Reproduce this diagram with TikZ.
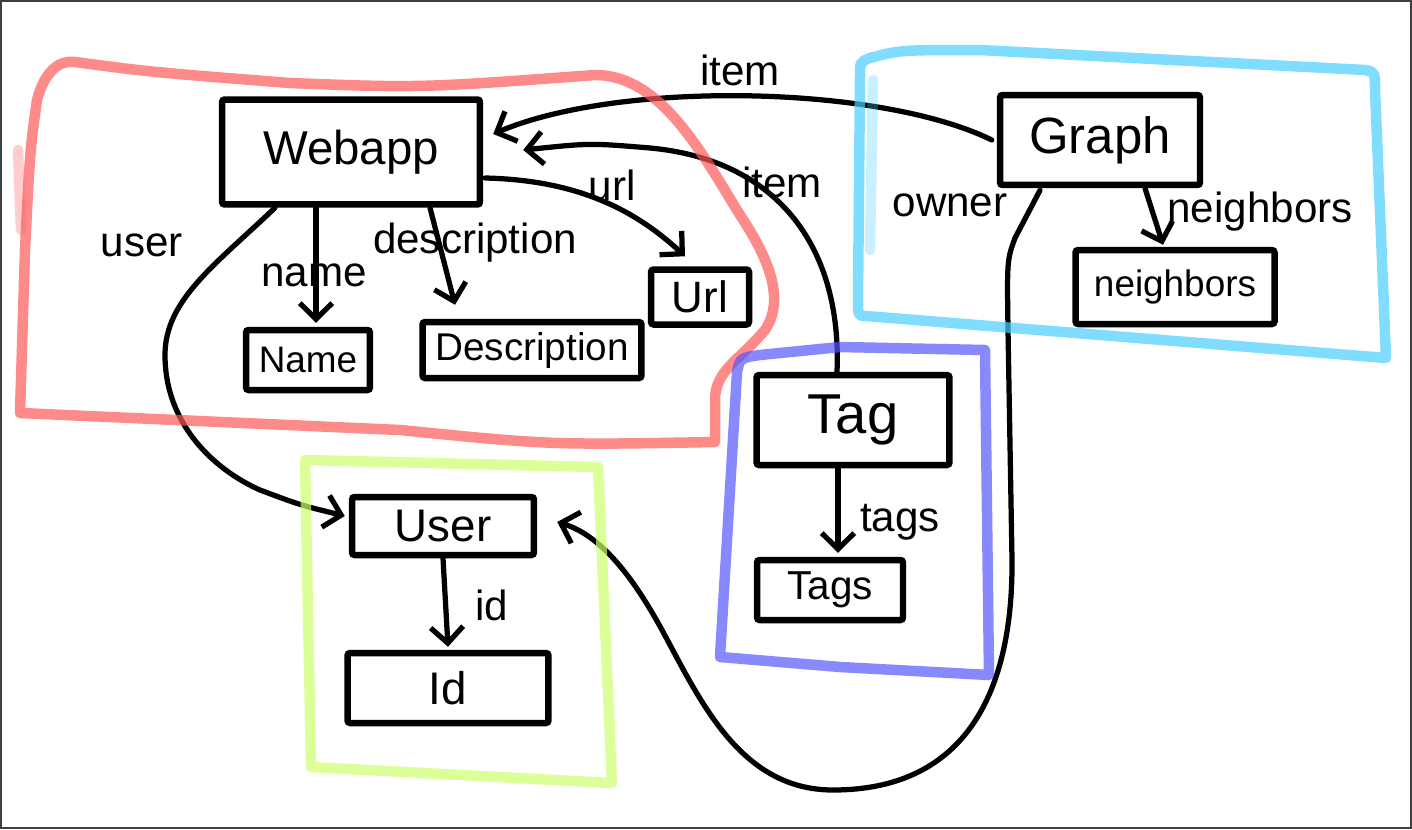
\documentclass[tikz,border=0pt]{standalone}
\usepackage{fontspec}
\setmainfont{Liberation Sans}
\usetikzlibrary{arrows.meta,calc}
\definecolor{redg}{RGB}{255,88,88}
\definecolor{cyang}{RGB}{76,206,255}
\definecolor{blueg}{RGB}{85,85,255}
\definecolor{greeng}{RGB}{206,255,109}
\begin{document}
\begin{tikzpicture}[x=0.02cm,y=-0.02cm,
  box/.style={draw, line width=0.13cm, rounded corners=1.5pt, inner sep=0pt, align=center},
  conn/.style={line width=0.105cm, -{Straight Barb[length=0.32cm,width=0.65cm]}, line cap=round, line join=round},
  lbl/.style={font=\fontsize{24}{26}\selectfont, inner sep=0pt},
  grp/.style={line width=0.21cm, opacity=0.7, line join=round, line cap=round}]
\useasboundingbox (0,0) rectangle (1412,829);
\draw[line width=0.04cm, black!75] (1,1) rectangle (1411,828);

% nodes
\node[box, minimum width=5.16cm, minimum height=2.1cm, font=\fontsize{27}{30}\selectfont] (web) at (351,152) {Webapp};
\node[box, minimum width=2.48cm, minimum height=1.2cm, font=\fontsize{21}{24}\selectfont] (name) at (308,360) {Name};
\node[box, minimum width=4.38cm, minimum height=1.12cm, font=\fontsize{22}{24}\selectfont] (desc) at (532,350) {Description};
\node[box, minimum width=1.96cm, minimum height=1.1cm, font=\fontsize{25}{27}\selectfont] (url) at (700,297) {Url};
\node[box, minimum width=4.0cm, minimum height=1.8cm, font=\fontsize{29}{32}\selectfont] (graph) at (1100,140) {Graph};
\node[box, minimum width=3.98cm, minimum height=1.48cm, font=\fontsize{21}{24}\selectfont] (nbr) at (1175,287) {neighbors};
\node[box, minimum width=3.86cm, minimum height=1.8cm, font=\fontsize{32}{34}\selectfont] (tag) at (853,420) {Tag};
\node[box, minimum width=2.92cm, minimum height=1.2cm, font=\fontsize{23}{26}\selectfont] (tags) at (830,590) {Tags};
\node[box, minimum width=3.64cm, minimum height=1.16cm, font=\fontsize{26}{28}\selectfont] (user) at (443,526) {User};
\node[box, minimum width=4.02cm, minimum height=1.4cm, font=\fontsize{26}{28}\selectfont] (id) at (448,688) {Id};

% connectors
\draw[conn] ($(web.south)+(-35,0)$) -- ($(name.north)+(8,-4)$);
\draw[conn] ($(web.south)+(79,0)$) -- ($(desc.north)+(-77,-14)$);
\draw[conn] ($(web.east)+(2,26)$) .. controls (570,180) and (630,205) .. ($(url.north)+(-15,-10)$);
\draw[conn] ($(web.south)+(-76,0)$) .. controls (215,265) and (165,300) .. (165,355) .. controls (165,425) and (215,470) .. (260,490) .. controls (300,505) .. ($(user.west)+(-4,-10)$);
\draw[conn] ($(graph.west)+(-5,0)$) .. controls (880,85) and (620,80) .. ($(web.east)+(10,-18)$);
\draw[conn] ($(tag.north)+(-16,0)$) .. controls (842,250) and (780,160) .. (650,148) .. controls (590,143) .. ($(web.east)+(40,-2)$);
\draw[conn] ($(graph.south)+(45,0)$) -- ($(nbr.north)+(-12,-2)$);
\draw[conn] ($(graph.south)+(-60,2)$) -- (1015,238) .. controls (1007,260) .. (1008,330) -- (1012,560) .. controls (1013,700) and (960,790) .. (833,790) .. controls (740,790) and (700,700) .. (662,630) .. controls (632,575) and (600,535) .. ($(user.east)+(20,-4)$);
\draw[conn] ($(tag.south)+(-15,0)$) -- ($(tags.north)+(8,-4)$);
\draw[conn] (user.south) -- ($(id.north)+(0,-3)$);

% labels
\node[lbl] (l-item1) at (740,70) {item};
\node[lbl] (l-user) at (142,245) {user};
\node[lbl] (l-name) at (314,275) {name};
\node[lbl] (l-desc) at (475,243) {description};
\node[lbl] (l-url) at (612,185) {url};
\node[lbl] (l-item2) at (782,182) {item};
\node[lbl] (l-owner) at (950,205) {owner};
\node[lbl] (l-nbr) at (1260,212) {neighbors};
\node[lbl] (l-tags) at (900,522) {tags};
\node[lbl] (l-id) at (492,605) {id};

% groups
\draw[grp, draw=redg] (75,62) .. controls (150,72) .. (290,83) .. controls (420,88) .. (595,75) .. controls (660,75) and (700,150) .. (740,215) .. controls (770,260) and (785,300) .. (765,330) .. controls (740,360) and (715,370) .. (715,400) -- (715,442) .. controls (550,445) .. (400,430) -- (20,413) -- (25,250) .. controls (30,150) .. (37,100) .. controls (45,70) and (60,60) .. cycle;
\draw[grp, draw=redg, opacity=0.3] (18,150) -- (21,230);
\draw[grp, draw=cyang] (870,58) .. controls (900,50) .. (980,50) -- (1365,70) .. controls (1375,72) .. (1375,90) -- (1386,358) -- (1100,335) -- (866,316) .. controls (858,316) .. (858,300) -- (860,75) .. controls (860,62) .. cycle;
\draw[grp, draw=cyang, opacity=0.3] (873,80) -- (870,250);
\draw[grp, draw=blueg] (737,372) .. controls (740,358) .. (760,355) -- (840,347) -- (985,350) -- (989,675) -- (840,667) -- (720,657) -- cycle;
\draw[grp, draw=greeng] (305,460) -- (598,467) -- (612,783) -- (311,767) -- cycle;
\end{tikzpicture}
\end{document}
